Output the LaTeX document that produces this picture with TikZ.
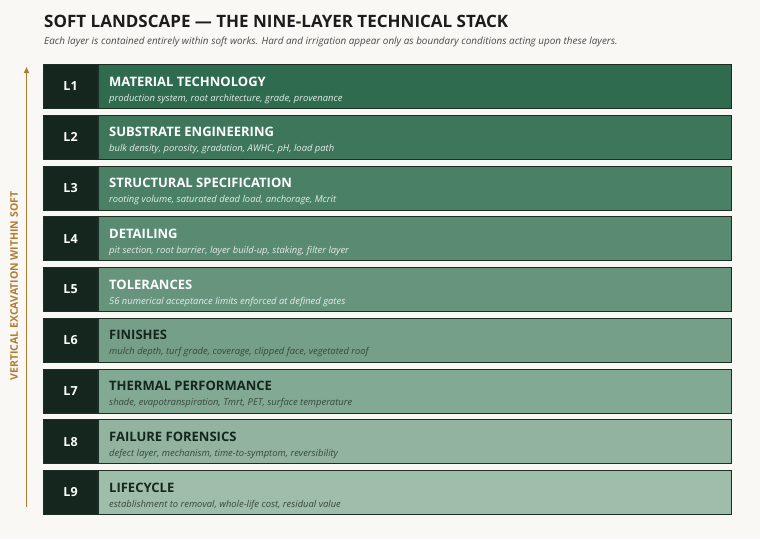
\documentclass[tikz,border=0pt]{standalone}
\usepackage{fontspec}
\setmainfont{Open Sans}
\usetikzlibrary{positioning,arrows.meta}

\definecolor{paper}{HTML}{FAF8F4}
\definecolor{deep}{HTML}{2E6B4F}
\definecolor{pale}{HTML}{9EBDAA}
\definecolor{tagfill}{HTML}{14261D}
\definecolor{edge}{HTML}{1A2E24}
\definecolor{ochre}{HTML}{B07C34}
\definecolor{ink}{HTML}{1C1C1C}
\definecolor{dim}{HTML}{4A4A4A}

\tikzset{
  band/.style={draw=edge, line width=0.9pt, minimum width=633pt, minimum height=44pt, inner sep=0pt},
  tagbox/.style={fill=tagfill, draw=edge, line width=0.9pt, minimum width=54pt, minimum height=44pt,
    inner sep=0pt, text=white, font=\bfseries\fontsize{12.5}{14}\selectfont},
  headtxt/.style={anchor=base west, inner sep=0pt, font=\bfseries\fontsize{13}{16}\selectfont},
  subtxt/.style={anchor=base west, inner sep=0pt, font=\itshape\fontsize{9.4}{11}\selectfont},
}

\begin{document}
\begin{tikzpicture}[x=1pt,y=-1pt]
  \fill[paper] (0,0) rectangle (760,539);
  \useasboundingbox (0,0) rectangle (760,539);

  % heading
  \node[anchor=base west, inner sep=0pt, text=ink, font=\bfseries\fontsize{17}{20}\selectfont]
    (title) at (44,27) {SOFT LANDSCAPE — THE NINE-LAYER TECHNICAL STACK};
  \node[anchor=base west, inner sep=0pt, text=dim, font=\itshape\fontsize{9.9}{11}\selectfont]
    (subtitle) at (44,44) {Each layer is contained entirely within soft works. Hard and irrigation appear only as boundary conditions acting upon these layers.};

  % the nine layers
  \foreach \i/\head/\detail in {
    1/MATERIAL TECHNOLOGY/{production system, root architecture, grade, provenance},
    2/SUBSTRATE ENGINEERING/{bulk density, porosity, gradation, AWHC, pH, load path},
    3/STRUCTURAL SPECIFICATION/{rooting volume, saturated dead load, anchorage, Mcrit},
    4/DETAILING/{pit section, root barrier, layer build-up, staking, filter layer},
    5/TOLERANCES/{56 numerical acceptance limits enforced at defined gates},
    6/FINISHES/{mulch depth, turf grade, coverage, clipped face, vegetated roof},
    7/THERMAL PERFORMANCE/{shade, evapotranspiration, Tmrt, PET, surface temperature},
    8/FAILURE FORENSICS/{defect layer, mechanism, time-to-symptom, reversibility},
    9/LIFECYCLE/{establishment to removal, whole-life cost, residual value}} {
    \pgfmathsetmacro{\top}{64+(\i-1)*50.75}
    \pgfmathtruncatemacro{\mix}{100-(\i-1)*12.5}
    \colorlet{rowfill}{deep!\mix!pale}
    \ifnum\i<6 \colorlet{rowtext}{white}\colorlet{rowsub}{white!88!deep}
    \else \colorlet{rowtext}{tagfill}\colorlet{rowsub}{tagfill!85!white}\fi
    \node[band, fill=rowfill, anchor=north west] (band\i) at (98,\top) {};
    \node[tagbox, anchor=north east] (tag\i) at (band\i.north west) {L\i};
    \node[headtxt, text=rowtext] (head\i) at ([xshift=11pt,yshift=-22pt]band\i.north west) {\head};
    \node[subtxt, text=rowsub] (sub\i) at ([xshift=11pt,yshift=-37pt]band\i.north west) {\detail};
  }

  % excavation arrow
  \coordinate (dig0) at (26.5,507);
  \coordinate (dig1) at (26.5,67);
  \draw[ochre, line width=1.6pt, -{Triangle[length=6pt,width=5pt]}] (dig0) -- (dig1);
  \node[rotate=90, text=ochre, font=\bfseries\fontsize{10.5}{12}\selectfont] (digtxt) at (14,286)
    {VERTICAL EXCAVATION WITHIN SOFT};
\end{tikzpicture}
\end{document}
